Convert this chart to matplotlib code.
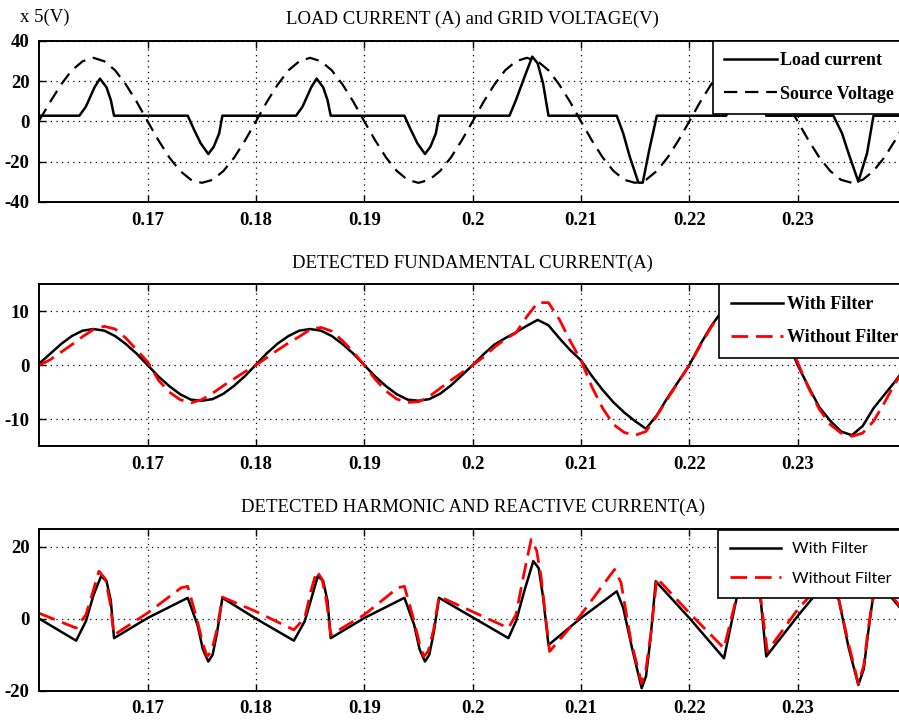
import numpy as np
import matplotlib
matplotlib.use("Agg")
import matplotlib.pyplot as plt

plt.rcParams["axes.unicode_minus"] = False

# ---- data ----
# panel 1: grid voltage (x5 V), sampled every 1 ms from 0.160 s
t_volt = np.round(np.arange(0.160, 0.2405, 0.001), 3)
v_source = [0.5, 9.6, 18.2, 25.3, 29.8, 31.5, 29.8, 25.3, 18.2, 9.6,
            0.0, -9.4, -17.9, -24.6, -29.0, -30.5, -29.0, -24.6, -17.9, -9.4,
            0.0, 9.6, 18.2, 25.3, 29.8, 31.5, 29.8, 25.3, 18.2, 9.6,
            0.0, -9.4, -17.9, -24.6, -29.0, -30.5, -29.0, -24.6, -17.9, -9.4,
            0.0, 9.6, 18.2, 25.3, 29.8, 31.5, 29.8, 25.3, 18.2, 9.6,
            0.0, -9.4, -17.9, -24.6, -29.0, -30.5, -29.0, -24.6, -17.9, -9.4,
            0.0, 9.6, 18.2, 25.3, 29.8, 31.5, 29.8, 25.3, 18.2, 9.6,
            0.0, -9.4, -17.9, -24.6, -29.0, -30.5, -29.0, -24.6, -17.9, -9.4,
            0.0]

# panel 1: load current (A)
t_load = [0.1600, 0.1637, 0.1643, 0.1651, 0.1656, 0.1662, 0.1666, 0.1669,
          0.1737, 0.1743, 0.1749, 0.1756, 0.1761, 0.1766, 0.1769,
          0.1837, 0.1843, 0.1851, 0.1856, 0.1862, 0.1866, 0.1869,
          0.1937, 0.1943, 0.1949, 0.1956, 0.1961, 0.1966, 0.1969,
          0.2034, 0.2040, 0.2048, 0.2055, 0.2060, 0.2065, 0.2070,
          0.2133, 0.2139, 0.2145, 0.2153, 0.2157, 0.2163, 0.2170,
          0.2234, 0.2240, 0.2248, 0.2255, 0.2260, 0.2265, 0.2271,
          0.2333, 0.2341, 0.2347, 0.2356, 0.2364, 0.2370, 0.2400]
i_load = [2.8, 2.8, 7.3, 16.9, 21.2, 16.9, 10.6, 2.8,
          2.8, -4.3, -10.9, -16.2, -12.6, -6.0, 2.8,
          2.8, 7.3, 16.9, 21.2, 16.9, 10.6, 2.8,
          2.8, -4.3, -10.9, -16.2, -12.6, -6.0, 2.8,
          2.8, 10.6, 22.2, 32.1, 28.8, 18.8, 2.8,
          2.8, -6.0, -17.5, -30.4, -30.4, -14.2, 2.8,
          2.8, 10.6, 22.2, 32.0, 28.8, 18.8, 2.8,
          2.8, -6.0, -15.9, -29.9, -15.9, 2.8, 2.8]

# panel 2: detected fundamental current (A), every 1 ms from 0.160 s
t_fund = t_volt
fund_filter = [0.3, 2.1, 3.9, 5.4, 6.4, 6.7, 6.4, 5.4, 3.9, 2.1,
               0.0, -2.1, -3.9, -5.4, -6.4, -6.6, -6.3, -5.3, -3.8, -2.0,
               0.1, 2.2, 4.0, 5.4, 6.4, 6.7, 6.4, 5.4, 3.9, 2.1,
               0.0, -2.1, -3.9, -5.4, -6.4, -6.6, -6.3, -5.3, -3.75, -1.9,
               0.0, 2.0, 3.8, 5.0, 6.1, 7.3, 8.4, 7.4, 5.0, 2.8,
               0.9, -2.0, -4.6, -6.9, -8.8, -10.4, -11.8, -9.3, -6.0, -3.0,
               0.0, 3.8, 7.2, 10.0, 12.0, 13.0, 12.8, 11.5, 8.5, 4.8,
               0.0, -4.0, -7.8, -10.3, -12.3, -13.0, -11.3, -8.0, -5.5, -3.0,
               -0.3]
fund_nofilter = [0.0, 1.0, 2.4, 3.8, 5.3, 6.6, 7.2, 6.7, 5.0, 2.8,
                 0.6, -2.8, -5.0, -6.4, -7.0, -6.4, -5.2, -3.8, -2.5, -1.2,
                 0.0, 1.4, 2.8, 4.1, 5.3, 6.6, 7.0, 6.3, 4.5, 2.4,
                 0.0, -2.6, -4.8, -6.3, -6.9, -6.8, -5.8, -4.3, -2.8, -1.4,
                 0.0, 1.5, 3.3, 4.8, 6.0, 9.0, 11.6, 11.6, 8.5, 4.5,
                 0.9, -4.0, -8.0, -11.0, -12.5, -13.0, -12.3, -9.4, -6.2, -3.1,
                 0.0, 3.6, 7.0, 9.9, 12.0, 13.2, 13.0, 11.7, 9.0, 5.2,
                 0.5, -4.2, -8.2, -11.0, -12.6, -13.2, -12.6, -10.4, -7.0, -3.3,
                 -0.6]

# panel 3: detected harmonic and reactive current (A)
t_harm_f = [0.1600, 0.1634, 0.1643, 0.1650, 0.1657, 0.1662, 0.1666, 0.1669,
            0.1700, 0.1737, 0.1746, 0.1751, 0.1756, 0.1760, 0.1764, 0.1769,
            0.1800, 0.1835, 0.1845, 0.1852, 0.1857, 0.1862, 0.1866, 0.1869,
            0.1900, 0.1937, 0.1946, 0.1951, 0.1956, 0.1960, 0.1964, 0.1969,
            0.2033, 0.2040, 0.2048, 0.2056, 0.2061, 0.2065, 0.2070,
            0.2100, 0.2133, 0.2139, 0.2147, 0.2156, 0.2160, 0.2164, 0.2169,
            0.2200, 0.2232, 0.2243, 0.2250, 0.2255, 0.2260, 0.2266, 0.2271,
            0.2301, 0.2320, 0.2330, 0.2338, 0.2347, 0.2356, 0.2361, 0.2365,
            0.2369, 0.2374, 0.2400]
harm_filter = [0.0, -6.1, -0.7, 6.5, 11.8, 10.5, 5.0, -5.4,
               0.2, 5.8, -1.7, -8.5, -11.9, -10.0, -4.0, 5.8,
               0.0, -6.1, -0.7, 6.5, 11.8, 10.5, 5.0, -5.4,
               0.2, 5.8, -1.7, -8.5, -11.9, -10.0, -4.0, 5.8,
               -5.4, -0.7, 8.0, 16.0, 14.0, 6.0, -7.3,
               0.2, 7.6, 3.0, -8.0, -19.3, -16.0, -6.0, 10.4,
               0.2, -11.0, 4.8, 14.0, 16.0, 12.0, 4.8, -10.5,
               1.1, 8.0, 8.0, 5.3, -8.0, -18.4, -14.0, -4.0,
               4.8, 10.5, 1.0]

t_harm_nf = [0.1600, 0.1634, 0.1643, 0.1650, 0.1655, 0.1661, 0.1665, 0.1669,
             0.1700, 0.1731, 0.1737, 0.1746, 0.1751, 0.1755, 0.1759, 0.1764, 0.1769,
             0.1800, 0.1835, 0.1845, 0.1851, 0.1856, 0.1861, 0.1865, 0.1869,
             0.1900, 0.1931, 0.1937, 0.1946, 0.1951, 0.1955, 0.1959, 0.1964, 0.1969,
             0.2033, 0.2040, 0.2047, 0.2054, 0.2059, 0.2063, 0.2071,
             0.2100, 0.2131, 0.2137, 0.2146, 0.2156, 0.2160, 0.2165, 0.2170,
             0.2200, 0.2232, 0.2243, 0.2250, 0.2255, 0.2260, 0.2266, 0.2272,
             0.2301, 0.2320, 0.2330, 0.2338, 0.2347, 0.2356, 0.2361, 0.2365,
             0.2369, 0.2374, 0.2400]
harm_nofilter = [1.5, -2.6, 1.1, 8.0, 13.2, 11.0, 5.0, -4.5,
                 1.6, 8.6, 9.0, -0.7, -7.0, -10.5, -9.0, -3.0, 6.0,
                 2.0, -3.1, 0.2, 8.0, 13.2, 11.0, 5.0, -4.5,
                 1.1, 8.6, 9.0, -0.7, -7.0, -10.5, -9.0, -3.0, 6.2,
                 -2.6, 1.1, 12.0, 22.0, 19.0, 12.0, -9.1,
                 1.1, 13.7, 10.0, -6.0, -18.0, -14.0, -3.0, 11.3,
                 1.6, -8.2, 5.3, 15.0, 17.0, 13.0, 5.3, -9.1,
                 3.0, 9.0, 9.0, 5.3, -7.0, -18.0, -13.0, -3.0,
                 5.0, 11.0, 1.5]

titles = ["LOAD CURRENT (A) and GRID VOLTAGE(V)",
          "DETECTED FUNDAMENTAL CURRENT(A)",
          "DETECTED HARMONIC AND REACTIVE CURRENT(A)"]
xticks = [0.17, 0.18, 0.19, 0.20, 0.21, 0.22, 0.23]
xticklabels = ["0.17", "0.18", "0.19", "0.2", "0.21", "0.22", "0.23"]

# ---- figure ----
serif = "Liberation Serif"
fig = plt.figure(figsize=(8.99, 7.24), dpi=100)
W, H = 899.0, 724.0
left_px, right_px = 39.3, 906.0
boxes = [(40.7, 202.0), (284.3, 446.0), (528.7, 690.7)]
axes = []
for top, bot in boxes:
    ax = fig.add_axes([left_px / W, 1 - bot / H, (right_px - left_px) / W, (bot - top) / H])
    axes.append(ax)

for ax, title in zip(axes, titles):
    ax.set_xlim(0.16, 0.24)
    ax.set_xticks(xticks)
    ax.set_xticklabels(xticklabels)
    ax.grid(True, color="black", linestyle=(0, (1, 3.5)), linewidth=0.9)
    ax.tick_params(direction="in", top=True, right=True, length=5, width=1,
                   pad=7, labelsize=13.5)
    for sp in ax.spines.values():
        sp.set_linewidth(1.4)
    ax.set_title(title, fontfamily=serif, fontsize=13.5, pad=12)

# panel 1
ax = axes[0]
ax.plot(t_load, i_load, color="black", lw=1.8, label="Load current")
ax.plot(t_volt, v_source, color="black", lw=1.6, dashes=(6, 3.5), label="Source Voltage")
ax.set_ylim(-40, 40)
ax.set_yticks([-40, -20, 0, 20, 40])
leg = ax.legend(loc="upper left", bbox_to_anchor=(0.777, 1.0), borderaxespad=0,
                fancybox=False, edgecolor="black", framealpha=1,
                handlelength=2.9, handletextpad=0.2, borderpad=0.65, labelspacing=0.9,
                prop={"family": serif, "size": 13, "weight": "bold"})
leg.get_frame().set_linewidth(1.2)
fig.text(20 / W, 1 - 17 / H, "x 5(V)", fontfamily=serif, fontsize=13.5, va="center", ha="left")

# panel 2
ax = axes[1]
ax.plot(t_fund, fund_filter, color="black", lw=1.8, label="With Filter")
ax.plot(t_fund, fund_nofilter, color="red", lw=2.0, dashes=(6, 2.8), label="Without Filter")
ax.set_ylim(-15, 15)
ax.set_yticks([-10, 0, 10])
leg = ax.legend(loc="upper left", bbox_to_anchor=(0.784, 1.0), borderaxespad=0,
                fancybox=False, edgecolor="black", framealpha=1,
                handlelength=2.9, handletextpad=0.2, borderpad=0.65, labelspacing=0.9,
                prop={"family": serif, "size": 13, "weight": "bold"})
leg.get_frame().set_linewidth(1.2)

# panel 3
ax = axes[2]
ax.plot(t_harm_f, harm_filter, color="black", lw=1.8, label="With Filter")
ax.plot(t_harm_nf, harm_nofilter, color="red", lw=2.0, dashes=(6, 2.8), label="Without Filter")
ax.set_ylim(-20, 25)
ax.set_yticks([-20, 0, 20])
leg = ax.legend(loc="upper left", bbox_to_anchor=(0.783, 0.99), borderaxespad=0,
                fancybox=False, edgecolor="black", framealpha=1,
                handlelength=3.2, handletextpad=0.7, borderpad=0.75, labelspacing=0.95,
                prop={"family": "Lato", "size": 11.5})
leg.get_frame().set_linewidth(1.2)

for ax in axes:
    for lab in ax.get_xticklabels() + ax.get_yticklabels():
        lab.set_fontfamily(serif)
        lab.set_fontweight("bold")

fig.savefig("out.png", dpi=100)
